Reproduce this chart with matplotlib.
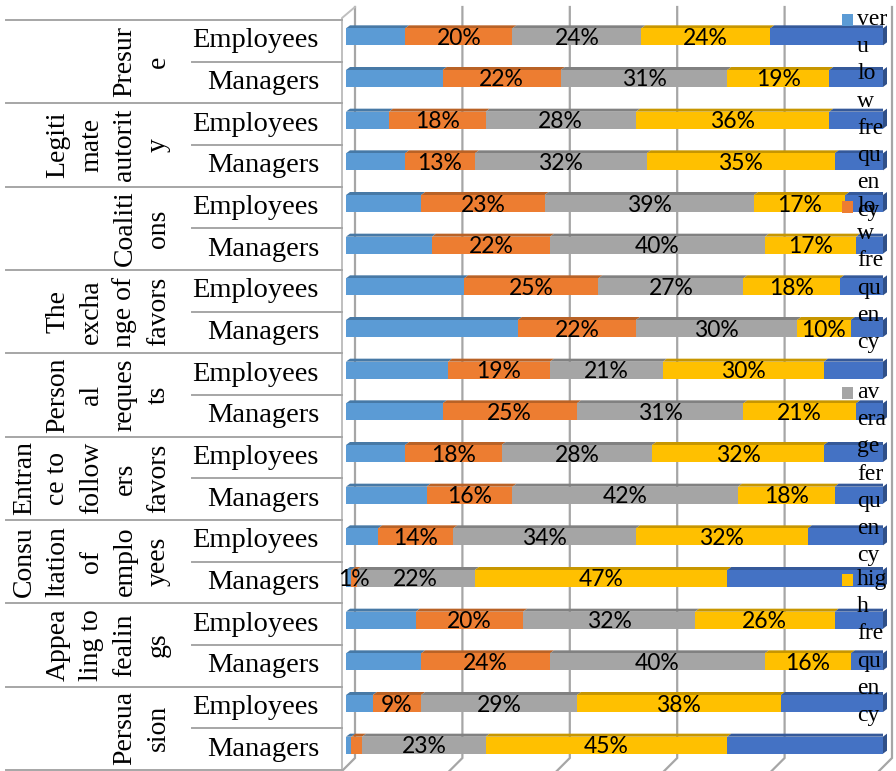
import matplotlib
matplotlib.use("Agg")
import matplotlib.pyplot as plt
from matplotlib.patches import Polygon, Rectangle
from matplotlib.colors import to_rgb

# ---------------- data ----------------
group_labels = ["Presur\ne", "Legiti\nmate\nautorit\ny", "Coaliti\nons",
                "The\nexcha\nnge of\nfavors", "Person\nal\nreques\nts",
                "Entran\nce to\nfollow\ners\nfavors", "Consu\nltation\nof\nemplo\nyees",
                "Appea\nling to\nfealin\ngs", "Persua\nsion"]
sub_labels = ["Employees", "Managers"]

series_names = ["veru low frequency", "low frequency", "average ferquency",
                "high frequency", "very high frequency"]
legend_wrapped = ["ver\nu\nlo\nw\nfre\nqu\nen\ncy", "lo\nw\nfre\nqu\nen\ncy",
                  "av\nera\nge\nfer\nqu\nen\ncy", "hig\nh\nfre\nqu\nen\ncy"]
colors = ["#5B9BD5", "#ED7D31", "#A5A5A5", "#FFC000", "#4472C4"]

very_low  = [11, 18,  8, 11, 14, 16, 22, 32, 19, 18, 11, 15,  6,  1, 13, 14,  5,  1]
low       = [20, 22, 18, 13, 23, 22, 25, 22, 19, 25, 18, 16, 14,  1, 20, 24,  9,  2]
average   = [24, 31, 28, 32, 39, 40, 27, 30, 21, 31, 28, 42, 34, 22, 32, 40, 29, 23]
high      = [24, 19, 36, 35, 17, 17, 18, 10, 30, 21, 32, 18, 32, 47, 26, 16, 38, 45]
very_high = [21, 10, 10,  9,  7,  5,  8,  6, 11,  5, 11,  9, 14, 29,  9,  6, 19, 29]
series = [very_low, low, average, high, very_high]
labelled_series = [1, 2, 3]
hidden_labels = {(17, 1)}
x_ticks = [0, 20, 40, 60, 80, 100]

# ---------------- figure ----------------
W, H = 896, 771
fig = plt.figure(figsize=(W / 100, H / 100), dpi=100)
n_rows = len(very_low)
ax_left, ax_right, ax_top, ax_bot = 346, 883, 20, 770
ax = fig.add_axes([ax_left / W, 1 - ax_bot / H, (ax_right - ax_left) / W, (ax_bot - ax_top) / H])
ax.set_xlim(0, 100)
ax.set_ylim(n_rows - 0.5, -0.5)
ax.axis("off")

PX = 100 / (ax_right - ax_left)          # data-x per pixel
PY = n_rows / (ax_bot - ax_top)          # data-y per pixel


def xpx(p):
    return (p - ax_left) * PX


def ypx(p):
    return (p - ax_top) * PY - 0.5


def darker(c, f=0.78):
    r, g, b = to_rgb(c)
    return (r * f, g * f, b * f)


grid_c = "#A6A6A6"
# back-wall gridlines with floor slant
for t in x_ticks:
    xb = t + 9 * PX
    ax.plot([xb, xb, xb - 13 * PX], [ypx(7), ypx(758), ypx(771)], color=grid_c,
            lw=1.6, zorder=1, clip_on=False, solid_joinstyle="miter")
# left wall
ax.plot([9 * PX, xpx(342), xpx(342)], [ypx(7), ypx(18), ypx(771)], color="#BFBFBF",
        lw=1.4, zorder=1, clip_on=False)

# bars with 3D faces
bar_h = 17 * PY
bar_off = -4 * PY
ddx, ddy = 4 * PX, 3 * PY
rows = list(range(n_rows))
lefts = [0] * n_rows
for si, vals in enumerate(series):
    yc = [r + bar_off for r in rows]
    ax.barh(yc, vals, left=lefts, height=bar_h, color=colors[si], zorder=3, lw=0)
    for r in rows:
        l, w = lefts[r], vals[r]
        yt = yc[r] - bar_h / 2
        yb = yc[r] + bar_h / 2
        ax.add_patch(Polygon([(l, yt), (l + w, yt), (l + w + ddx, yt - ddy), (l + ddx, yt - ddy)],
                             closed=True, color=darker(colors[si]), lw=0, zorder=2.9))
        if si == len(series) - 1:
            ax.add_patch(Polygon([(l + w, yt), (l + w + ddx, yt - ddy), (l + w + ddx, yb - ddy), (l + w, yb)],
                                 closed=True, color=darker(colors[si], 0.7), lw=0, zorder=2.9,
                                 clip_on=False))
        if si in labelled_series and (r, si) not in hidden_labels:
            ax.text(l + w / 2, r - 0.06, f"{w}%", ha="center", va="center",
                    fontsize=16.5, family="Lato", color="black", zorder=5, clip_on=False)
    lefts = [lefts[r] + vals[r] for r in rows]

# category table
line_c = "#A6A6A6"
for g in range(len(group_labels) + 1):
    yy = 2 * g - 0.5
    ax.plot([xpx(6), xpx(342)], [yy, yy], color=line_c, lw=1.4, clip_on=False, zorder=1)
for g in range(len(group_labels)):
    yy = 2 * g + 0.5
    ax.plot([xpx(192), xpx(342)], [yy, yy], color=line_c, lw=1.4, clip_on=False, zorder=1)
    ax.text(xpx(171), 2 * g + 0.5, group_labels[g], rotation=90, ha="right", va="center",
            multialignment="center", fontsize=20, family="Liberation Serif",
            linespacing=1.45, clip_on=False)
    for k, s in enumerate(sub_labels):
        ax.text(xpx(319), 2 * g + k, s, ha="right", va="center", fontsize=20.5,
                family="Liberation Serif", clip_on=False)

# legend (wrapped, overlapping entries as in the source)
entry_y = [20, 207, 393, 580]
for i, txt in enumerate(legend_wrapped):
    yc = entry_y[i]
    fig.add_artist(Rectangle((842 / W, 1 - (yc + 6) / H), 11 / W, 12 / H,
                             transform=fig.transFigure, color=colors[i], lw=0))
    fig.text(857 / W, 1 - (yc - 11) / H, txt, ha="left", va="top", fontsize=17,
             family="Liberation Serif", linespacing=1.39)

fig.savefig("out.png", dpi=100)
